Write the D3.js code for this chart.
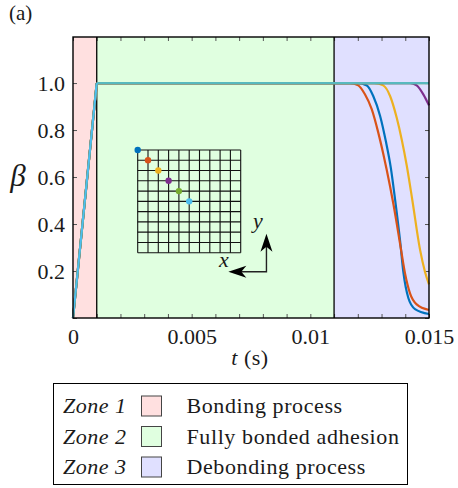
<!DOCTYPE html>
<html>
<head>
<meta charset="utf-8">
<script src="https://d3js.org/d3.v7.min.js"></script>
<style>
  html, body { margin: 0; padding: 0; background: #fff; }
  text { font-family: "Liberation Serif", serif; fill: #1a1a1a; }
</style>
</head>
<body>
<div id="chart"></div>
<script>
// values
var riseT = [0, 0.001];
var riseBeta = [0, 1];

var blueT = [0.001, 0.0120, 0.01238, 0.01265, 0.01294, 0.01318, 0.01339, 0.01357, 0.01378, 0.01392, 0.01413, 0.01441, 0.015];
var blueBeta = [1, 1, 0.990, 0.945, 0.860, 0.753, 0.640, 0.505, 0.330, 0.195, 0.085, 0.038, 0.017];

var redT = [0.001, 0.01167, 0.01202, 0.0123, 0.01259, 0.01286, 0.01307, 0.01322, 0.0135, 0.01382, 0.01399, 0.0142, 0.01448, 0.015];
var redBeta = [1, 1, 0.990, 0.952, 0.888, 0.790, 0.700, 0.630, 0.485, 0.292, 0.190, 0.105, 0.058, 0.034];

var yellowT = [0.001, 0.0127, 0.01307, 0.01336, 0.01364, 0.01385, 0.01406, 0.0143, 0.01462, 0.01483, 0.015];
var yellowBeta = [1, 1, 0.990, 0.945, 0.852, 0.760, 0.650, 0.500, 0.292, 0.197, 0.143];

var purpleT = [0.001, 0.0142, 0.01448, 0.01476, 0.015];
var purpleBeta = [1, 1, 0.990, 0.952, 0.905];

var greenT = [0.001, 0.015];
var greenBeta = [1, 1];

var skyT = [0.001, 0.015];
var skyBeta = [1, 1];

var seriesColors = ["#0072BD", "#D95319", "#EDB120", "#7E2F8E", "#77AC30", "#4DBEEE"];

var zoneEdges = [0, 0.001, 0.011, 0.015];
var zoneColors = ["#FFE0E0", "#E0FFE0", "#E0E0FF"];
var zoneNames = ["Zone 1", "Zone 2", "Zone 3"];
var zoneLabels = ["Bonding process", "Fully bonded adhesion", "Debonding process"];

var xTicks = [0, 0.001, 0.002, 0.003, 0.004, 0.005, 0.006, 0.007, 0.008, 0.009, 0.01, 0.011, 0.012, 0.013, 0.014, 0.015];
var xTickLabels = { 0: "0", 0.005: "0.005", 0.01: "0.01", 0.015: "0.015" };
var yTicks = [0, 0.2, 0.4, 0.6, 0.8, 1.0];
var yTickLabels = ["", "0.2", "0.4", "0.6", "0.8", "1.0"];

// inset mesh: cell indices of the sample points along the diagonal
var meshLines = [0, 1, 2, 3, 4, 5, 6, 7, 8, 9, 10];
var probeCol = [0, 1, 2, 3, 4, 5];
var probeRow = [0, 1, 2, 3, 4, 5];

var svgWidth = 458;
var svgHeight = 488;

var margin = { top: 37, right: 29, bottom: 170, left: 73 };
var width = svgWidth - margin.left - margin.right;
var height = svgHeight - margin.top - margin.bottom;

var svg = d3.select("#chart")
  .append("svg")
  .attr("width", svgWidth)
  .attr("height", svgHeight)
  .style("display", "block");

var chartGroup = svg.append("g")
  .attr("transform", `translate(${margin.left}, ${margin.top})`);

var xScale = d3.scaleLinear().domain([0, 0.015]).range([0, width]);
var yScale = d3.scaleLinear().domain([0, 1.196]).range([height, 0]);

// zone backgrounds
chartGroup.selectAll("rect.zone")
  .data(zoneColors)
  .enter()
  .append("rect")
  .attr("class", "zone")
  .attr("x", (d, i) => xScale(zoneEdges[i]))
  .attr("y", 0)
  .attr("width", (d, i) => xScale(zoneEdges[i + 1]) - xScale(zoneEdges[i]))
  .attr("height", height)
  .attr("fill", d => d);

// ticks point inward on all four sides
function styleAxis(g) {
  g.select(".domain").remove();
  g.selectAll(".tick line").attr("stroke", "#555").attr("stroke-width", 1);
  g.selectAll(".tick text")
    .style("font-family", '"Liberation Serif", serif')
    .attr("font-size", 22)
    .attr("fill", "#1a1a1a");
}

chartGroup.append("g")
  .attr("transform", `translate(0, ${height})`)
  .call(d3.axisBottom(xScale).tickValues(xTicks).tickSize(-4).tickPadding(10)
    .tickFormat(d => xTickLabels[+d.toFixed(3)] || ""))
  .call(styleAxis);

chartGroup.append("g")
  .call(d3.axisTop(xScale).tickValues(xTicks).tickSize(-4).tickFormat(""))
  .call(styleAxis);

chartGroup.append("g")
  .call(d3.axisLeft(yScale).tickValues(yTicks).tickSize(-4).tickPadding(8)
    .tickFormat((d, i) => yTickLabels[i]))
  .call(styleAxis);

chartGroup.append("g")
  .attr("transform", `translate(${width}, 0)`)
  .call(d3.axisRight(yScale).tickValues(yTicks).tickSize(-4).tickFormat(""))
  .call(styleAxis);

// zone borders
chartGroup.selectAll("line.edge")
  .data([zoneEdges[1], zoneEdges[2]])
  .enter()
  .append("line")
  .attr("class", "edge")
  .attr("x1", d => xScale(d))
  .attr("x2", d => xScale(d))
  .attr("y1", 0)
  .attr("y2", height)
  .attr("stroke", "#000")
  .attr("stroke-width", 1.3);

// curves
var curveLine = d3.line()
  .x(d => xScale(d[0]))
  .y(d => yScale(d[1]))
  .curve(d3.curveMonotoneX);

var straightLine = d3.line()
  .x(d => xScale(d[0]))
  .y(d => yScale(d[1]));

var allSeries = [
  [blueT, blueBeta],
  [redT, redBeta],
  [yellowT, yellowBeta],
  [purpleT, purpleBeta],
  [greenT, greenBeta],
  [skyT, skyBeta]
];

allSeries.forEach(function(s, i) {
  chartGroup.append("path")
    .attr("d", straightLine(d3.zip(riseT, riseBeta)))
    .attr("fill", "none")
    .attr("stroke", seriesColors[i])
    .attr("stroke-width", 2.2);
  chartGroup.append("path")
    .attr("d", curveLine(d3.zip(s[0], s[1])))
    .attr("fill", "none")
    .attr("stroke", seriesColors[i])
    .attr("stroke-width", 2.2)
    // last flat line lets the green show through, it reads teal in the original
    .attr("stroke-opacity", i == 5 ? 0.75 : 1);
});

// plot frame
chartGroup.append("rect")
  .attr("width", width)
  .attr("height", height)
  .attr("fill", "none")
  .attr("stroke", "#000")
  .attr("stroke-width", 1.4);

// inset mesh
var meshX = d3.scaleLinear().domain([0, 10]).range([137.7, 240.7]);
var meshY = d3.scaleLinear().domain([0, 10]).range([150, 252.7]);
var inset = svg.append("g");

inset.selectAll("line.v")
  .data(meshLines)
  .enter()
  .append("line")
  .attr("class", "v")
  .attr("x1", d => meshX(d))
  .attr("x2", d => meshX(d))
  .attr("y1", meshY(0))
  .attr("y2", meshY(10))
  .attr("stroke", "#111")
  .attr("stroke-width", 1.1);

inset.selectAll("line.h")
  .data(meshLines)
  .enter()
  .append("line")
  .attr("class", "h")
  .attr("x1", meshX(0))
  .attr("x2", meshX(10))
  .attr("y1", d => meshY(d))
  .attr("y2", d => meshY(d))
  .attr("stroke", "#111")
  .attr("stroke-width", 1.1);

inset.selectAll("circle")
  .data(probeCol)
  .enter()
  .append("circle")
  .attr("cx", d => meshX(d))
  .attr("cy", (d, i) => meshY(probeRow[i]))
  .attr("r", 3.2)
  .attr("fill", (d, i) => seriesColors[i]);

// coordinate arrows
var arrowOrigin = [12.5, 11.85];
var arrowTipX = 8.8;
var arrowTipY = 8.15;

inset.append("path")
  .attr("d", `M${meshX(arrowTipX) + 8},${meshY(arrowOrigin[1])}H${meshX(arrowOrigin[0])}V${meshY(arrowTipY) + 8}`)
  .attr("fill", "none")
  .attr("stroke", "#222")
  .attr("stroke-width", 1.4);

inset.append("path")
  .attr("d", `M${meshX(arrowTipX)},${meshY(arrowOrigin[1])}l18,-6l-5,6l5,6z`)
  .attr("fill", "#000");

inset.append("path")
  .attr("d", `M${meshX(arrowOrigin[0])},${meshY(arrowTipY)}l-6,18l6,-5l6,5z`)
  .attr("fill", "#000");

inset.append("text")
  .attr("x", 224).attr("y", 267)
  .attr("text-anchor", "middle")
  .attr("font-size", 22)
  .attr("font-style", "italic")
  .text("x");

inset.append("text")
  .attr("x", 258).attr("y", 228)
  .attr("text-anchor", "middle")
  .attr("font-size", 22)
  .attr("font-style", "italic")
  .text("y");

// labels
svg.append("text")
  .attr("x", 9).attr("y", 20)
  .attr("font-size", 21)
  .text("(a)");

svg.append("text")
  .attr("x", 18).attr("y", 186)
  .attr("text-anchor", "middle")
  .attr("font-size", 31)
  .attr("font-style", "italic")
  .text("β");

var tLabel = svg.append("text")
  .attr("x", 250).attr("y", 365)
  .attr("text-anchor", "middle")
  .attr("font-size", 22)
  .attr("letter-spacing", 0.5);
tLabel.append("tspan").attr("font-style", "italic").text("t");
tLabel.append("tspan").text(" (s)");

// legend
var legendRowY = d3.scalePoint().domain(zoneNames).range([406, 467]);
var legend = svg.append("g");

legend.append("rect")
  .attr("x", 53.5).attr("y", 383.5)
  .attr("width", 354).attr("height", 101)
  .attr("fill", "#fff")
  .attr("stroke", "#000")
  .attr("stroke-width", 1);

zoneNames.forEach(function(name, i) {
  var cy = legendRowY(name);
  legend.append("text")
    .attr("x", 63).attr("y", cy + 7)
    .attr("font-size", 22)
    .attr("letter-spacing", 0.5)
    .attr("font-style", "italic")
    .text(name);
  legend.append("rect")
    .attr("x", 141.5).attr("y", cy - 10)
    .attr("width", 20).attr("height", 20)
    .attr("fill", zoneColors[i])
    .attr("stroke", "#444")
    .attr("stroke-width", 1);
  legend.append("text")
    .attr("x", 186.5).attr("y", cy + 7)
    .attr("font-size", 22)
    .attr("letter-spacing", 0.6)
    .text(zoneLabels[i]);
});
</script>
</body>
</html>
